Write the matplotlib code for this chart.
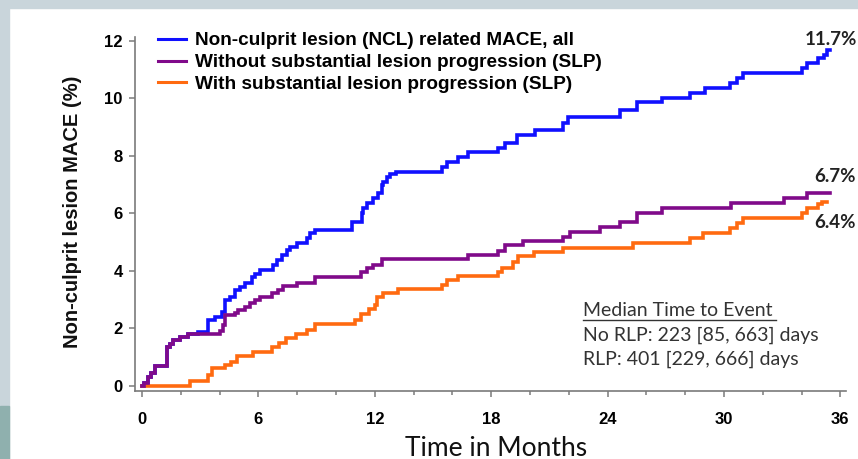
import matplotlib
matplotlib.use("Agg")
import matplotlib.pyplot as plt
from matplotlib.patches import Rectangle
from matplotlib.lines import Line2D

# Kaplan-Meier style cumulative incidence (%), step times in months
all_t = [0, 0.1, 0.3, 0.45, 0.67, 1.27, 1.45, 1.61, 1.96, 2.39, 2.9, 3.42, 3.75, 4.1, 4.28,
         4.54, 4.8, 5.05, 5.3, 5.65, 5.82, 6.08, 6.77, 6.94, 7.2, 7.46, 7.63, 7.97, 8.49,
         8.66, 8.9, 10.81, 11.32, 11.41, 11.58, 11.92, 12.18, 12.36, 12.44, 12.61, 12.78,
         13.1, 15.45, 15.7, 16.3, 16.82, 18.37, 18.71, 19.31, 20.26, 21.72, 21.98, 24.64,
         25.5, 26.79, 28.25, 29.0, 30.3, 30.65, 31.0, 34.0, 34.26, 34.86, 35.15, 35.3, 35.46]
all_v = [0, 0.1, 0.3, 0.45, 0.68, 1.35, 1.45, 1.58, 1.7, 1.8, 1.87, 2.3, 2.4, 2.55, 2.98,
         3.1, 3.33, 3.44, 3.56, 3.79, 3.9, 4.02, 4.2, 4.37, 4.55, 4.72, 4.84, 4.95, 5.13,
         5.3, 5.42, 5.71, 6.0, 6.17, 6.35, 6.52, 6.7, 6.99, 7.1, 7.28, 7.38,
         7.45, 7.62, 7.8, 7.97, 8.12, 8.27, 8.44, 8.73, 8.9, 9.14, 9.37, 9.58,
         9.87, 10.02, 10.2, 10.35, 10.55, 10.72, 10.9, 11.07, 11.23, 11.4, 11.52, 11.7, 11.7]

no_slp_t = [0, 0.1, 0.3, 0.45, 0.67, 1.27, 1.45, 1.61, 1.96, 2.39, 4.02, 4.19, 4.28, 4.79,
            4.96, 5.31, 5.57, 5.82, 6.08, 6.69, 7.03, 7.29, 7.97, 8.92, 11.3, 11.58, 11.92,
            12.36, 16.82, 18.37, 18.71, 19.66, 21.72, 22.06, 23.6, 24.64, 25.5, 26.79, 30.35,
            33.1, 34.26, 35.46]
no_slp_v = [0, 0.1, 0.3, 0.45, 0.68, 1.35, 1.45, 1.58, 1.7, 1.8, 1.9, 2.1, 2.46, 2.52,
            2.63, 2.75, 2.87, 2.98, 3.1, 3.21, 3.33, 3.45, 3.56, 3.78, 3.97, 4.08, 4.2,
            4.4, 4.55, 4.7, 4.88, 5.02, 5.18, 5.34, 5.52, 5.7, 6.02, 6.17, 6.35,
            6.52, 6.7, 6.7]

slp_t = [0, 2.45, 3.42, 3.59, 4.28, 4.6, 4.88, 5.74, 6.72, 7.05, 7.4, 7.92, 8.49, 8.92,
         11.0, 11.3, 11.7, 12.0, 12.1, 12.4, 13.2, 15.45, 15.7, 16.3, 18.37, 18.55, 19.1,
         19.4, 20.2, 21.72, 25.3, 28.25, 28.93, 30.3, 30.65, 31.0, 34.0, 34.26, 34.86,
         35.05, 35.3]
slp_v = [0, 0.15, 0.38, 0.62, 0.7, 0.83, 1.02, 1.17, 1.35, 1.47, 1.67, 1.79, 1.93, 2.13,
         2.3, 2.48, 2.65, 2.8, 3.1, 3.23, 3.35, 3.5, 3.67, 3.8, 3.95, 4.1, 4.3,
         4.5, 4.66, 4.8, 4.98, 5.15, 5.3, 5.5, 5.67, 5.85, 6.0, 6.17, 6.33,
         6.4, 6.4]

series_labels = ["Non-culprit lesion (NCL) related MACE, all",
                 "Without substantial lesion progression (SLP)",
                 "With substantial lesion progression (SLP)"]
series_colors = ["#1010FF", "#800A8A", "#FF6A10"]
end_labels = ["11.7%", "6.7%", "6.4%"]

x_major = [0, 6, 12, 18, 24, 30, 36]
y_major = [0, 2, 4, 6, 8, 10, 12]

median_title = "Median Time to Event"
median_lines = ["No RLP: 223 [85, 663] days", "RLP: 401 [229, 666] days"]

W, H = 858, 459
fig = plt.figure(figsize=(W / 100, H / 100), dpi=100)
fig.patch.set_facecolor("white")

# slide frame bands
fig.patches.append(Rectangle((0, 1 - 8 / H), 1, 8 / H, transform=fig.transFigure,
                             color="#C9D5DB", zorder=0))
fig.patches.append(Rectangle((0, 0), 9 / W, 1, transform=fig.transFigure,
                             color="#C9D5DB", zorder=0))
fig.patches.append(Rectangle((0, 0), 9 / W, (H - 406) / H, transform=fig.transFigure,
                             color="#8FB0AE", zorder=0))

ax = fig.add_axes([135 / W, 1 - 391 / H, (846 - 135) / W, (391 - 37) / H])
ax.set_xlim(-0.36, 36.29)
ax.set_ylim(-0.19, 12.14)

spine_c = "#7A7A7A"
for s in ["top", "right"]:
    ax.spines[s].set_visible(False)
for s in ["left", "bottom"]:
    ax.spines[s].set_color(spine_c)
    ax.spines[s].set_linewidth(1.2)

series = [(all_t, all_v), (no_slp_t, no_slp_v), (slp_t, slp_v)]
draw_order = [0, 2, 1]
for i in draw_order:
    t, v = series[i]
    ax.step(t, v, where="post", color=series_colors[i], lw=2.6, solid_joinstyle="miter",
            zorder=3 + (1 if i == 1 else 0))

ax.set_xticks(x_major)
ax.set_xticks([m for m in range(0, 37, 2) if m not in x_major], minor=True)
ax.set_yticks(y_major)
ax.tick_params(axis="both", which="major", direction="out", length=4, width=1.1,
               color=spine_c, labelsize=12)
ax.tick_params(axis="x", which="minor", direction="out", length=3, width=1.1, color=spine_c)
ax.tick_params(axis="x", which="major", pad=11)
ax.tick_params(axis="y", which="major", pad=5)
for lab in ax.get_xticklabels() + ax.get_yticklabels():
    lab.set_fontweight("bold")
    lab.set_fontfamily("Liberation Sans")

fig.text(73 / W, 1 - 212 / H, "Non-culprit lesion MACE (%)", rotation=90,
         ha="center", va="center", fontsize=14.5, fontweight="bold",
         family="Liberation Sans", color="#111111")
fig.text(496 / W, 1 - 448 / H, "Time in Months", ha="center", va="center",
         fontsize=19, family="Lato", color="#111111")

handles = [Line2D([], [], color=c, lw=2.2) for c in series_colors]
leg = ax.legend(handles, series_labels, loc="upper left",
                bbox_to_anchor=(158 / W, 1 - 32 / H), bbox_transform=fig.transFigure,
                frameon=False, borderpad=0, borderaxespad=0, handlelength=1.45,
                handletextpad=0.5, labelspacing=0.24,
                prop={"family": "Liberation Sans", "weight": "bold", "size": 13.7})

# end-of-curve percentages
end_pts = [(all_t[-1], all_v[-1]), (no_slp_t[-1], no_slp_v[-1]), (slp_t[-1], slp_v[-1])]
offsets = [(0.5, 7), (4, 12), (6, -15)]
for (x, y), txt, off in zip(end_pts, end_labels, offsets):
    ax.annotate(txt, (x, y), xytext=off, textcoords="offset points", ha="center",
                va="center", fontsize=13.5, fontweight="bold", family="Lato",
                color="#222222", annotation_clip=False)

fig.text(583 / W, 1 - 310 / H, median_title, ha="left", va="center",
         fontsize=14, family="Lato", color="#333333")
fig.add_artist(Line2D([583 / W, 776 / W], [1 - 320 / H, 1 - 320 / H],
                      transform=fig.transFigure, color="#333333", lw=1.0))
for k, line in enumerate(median_lines):
    fig.text(583 / W, 1 - (335 + 24 * k) / H, line, ha="left", va="center",
             fontsize=14, family="Lato", color="#333333")

fig.savefig("out.png", dpi=100)
